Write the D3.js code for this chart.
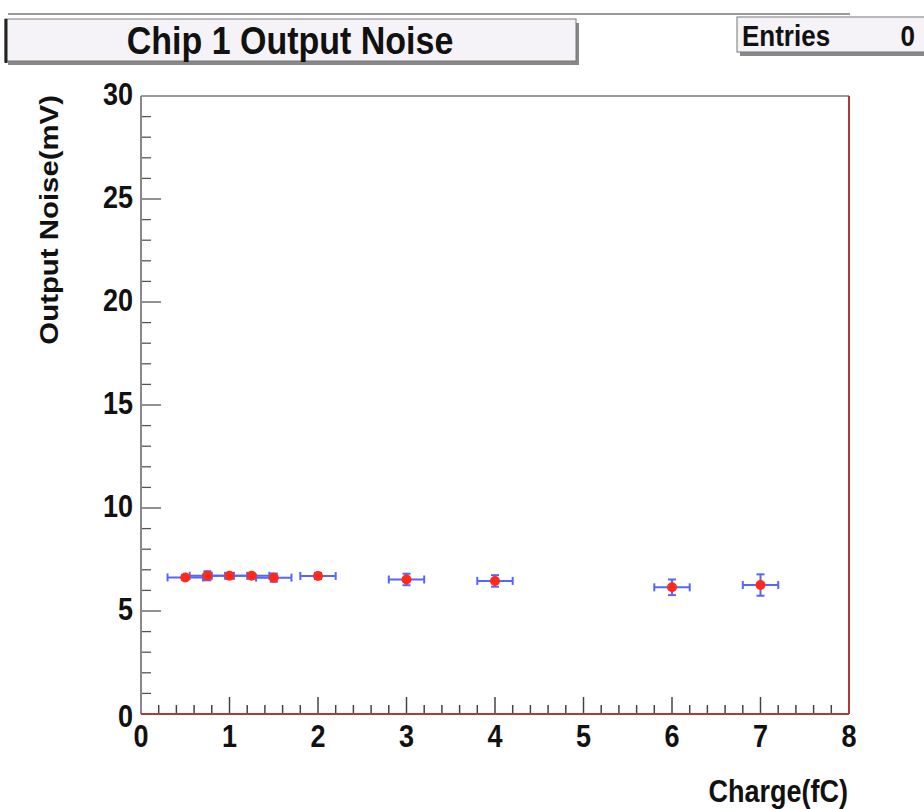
<!DOCTYPE html>
<html>
<head>
<meta charset="utf-8">
<script src="https://cdn.jsdelivr.net/npm/d3@7"></script>
<style>
  body { margin: 0; background: #fff; }
  text { font-family: "Liberation Sans", Arial, sans-serif; font-weight: bold; fill: #111; }
</style>
</head>
<body>
<svg id="chart" width="924" height="809"></svg>
<script>
// measured points (charge in fC, noise in mV)
const charge = [0.5, 0.75, 1, 1.25, 1.5, 2, 3, 4, 6, 7];
const noise = [6.63, 6.71, 6.71, 6.71, 6.62, 6.70, 6.53, 6.46, 6.15, 6.26];
const chargeErr = [0.2, 0.2, 0.2, 0.2, 0.2, 0.2, 0.2, 0.2, 0.2, 0.2];
const noiseErr = [0.12, 0.22, 0.12, 0.12, 0.2, 0.15, 0.28, 0.28, 0.38, 0.52];
const xTicks = [0, 1, 2, 3, 4, 5, 6, 7, 8];
const yTicks = [0, 5, 10, 15, 20, 25, 30];

const margin = {left: 141, right: 75, top: 96, bottom: 95};
const width = 924, height = 809;
const stretch = 1.13; // text in the picture is a bit taller than normal

const svg = d3.select("#chart");

const x = d3.scaleLinear().domain([0, 8]).range([margin.left, width - margin.right]);
const y = d3.scaleLinear().domain([0, 30]).range([height - margin.bottom, margin.top]);

// text placed at (tx, ty), stretched vertically
function label(tx, ty, str, size, anchor) {
  return svg.append("text")
    .attr("transform", `translate(${tx},${ty}) scale(1,${stretch})`)
    .attr("text-anchor", anchor || "start")
    .style("font-size", size + "px")
    .text(str);
}

// stray line at the very top (cut off pad edge)
svg.append("line")
  .attr("x1", 8).attr("x2", 850).attr("y1", 14).attr("y2", 14)
  .attr("stroke", "#999").attr("stroke-width", 2);

// title box
svg.append("rect").attr("x", 8).attr("y", 23).attr("width", 571).attr("height", 42).attr("fill", "#888");
svg.append("rect").attr("x", 5).attr("y", 19).attr("width", 571).attr("height", 42)
  .attr("fill", "#f5f3f7").attr("stroke", "#777").attr("stroke-width", 1);
svg.append("line").attr("x1", 6).attr("x2", 6).attr("y1", 19).attr("y2", 63)
  .attr("stroke", "#222").attr("stroke-width", 3);
label(290, 54, "Chip 1 Output Noise", 34, "middle");

// stats box
svg.append("rect").attr("x", 740).attr("y", 21).attr("width", 190).attr("height", 35).attr("fill", "#888");
svg.append("rect").attr("x", 737).attr("y", 17).attr("width", 190).attr("height", 35)
  .attr("fill", "#f5f3f7").attr("stroke", "#777").attr("stroke-width", 1);
label(742, 46, "Entries", 26);
label(915, 46, "0", 26, "end");

// tick labels
yTicks.forEach(v => label(margin.left - 8, y(v) + (v === 0 ? 13 : 9), String(v), 27, "end"));
xTicks.forEach(v => label(x(v), y(0) + 33, String(v), 27, "middle"));

// tick marks inside the frame
const yMinor = d3.range(0, 31, 1);
svg.append("g").selectAll("line").data(yMinor).join("line")
  .attr("x1", margin.left).attr("x2", d => margin.left + (d % 5 === 0 ? 20 : 10))
  .attr("y1", d => y(d)).attr("y2", d => y(d))
  .attr("stroke", "#555").attr("stroke-width", 1.3);

const xMinor = d3.range(0, 41, 1).map(d => d / 5);
svg.append("g").selectAll("line").data(xMinor).join("line")
  .attr("x1", d => x(d)).attr("x2", d => x(d))
  .attr("y1", y(0)).attr("y2", (d, i) => y(0) - (i % 5 === 0 ? 17 : 9))
  .attr("stroke", "#444").attr("stroke-width", 1.5);

// frame
svg.append("line").attr("x1", x(0)).attr("x2", x(8)).attr("y1", y(30)).attr("y2", y(30))
  .attr("stroke", "#999").attr("stroke-width", 2);
svg.append("line").attr("x1", x(0)).attr("x2", x(0)).attr("y1", y(30)).attr("y2", y(0))
  .attr("stroke", "#888").attr("stroke-width", 2);
svg.append("line").attr("x1", x(0)).attr("x2", x(8)).attr("y1", y(0)).attr("y2", y(0))
  .attr("stroke", "#b03a3a").attr("stroke-width", 2);
svg.append("line").attr("x1", x(8)).attr("x2", x(8)).attr("y1", y(30)).attr("y2", y(0))
  .attr("stroke", "#b03a3a").attr("stroke-width", 2);

// axis titles
label(848, 802, "Charge(fC)", 27, "end");
svg.append("text").attr("transform", `translate(58,${margin.top - 1}) rotate(-90) scale(${stretch},1)`)
  .attr("text-anchor", "end").style("font-size", "26px").text("Output Noise(mV)");

// data points with error bars
const pts = charge.map((c, i) => ({c, n: noise[i], ex: chargeErr[i], ey: noiseErr[i]}));
const blue = "#5566ff";
const g = svg.append("g");
g.selectAll(".hx").data(pts).join("line")
  .attr("x1", d => x(d.c - d.ex)).attr("x2", d => x(d.c + d.ex))
  .attr("y1", d => y(d.n)).attr("y2", d => y(d.n))
  .attr("stroke", blue).attr("stroke-width", 2);
g.selectAll(".hy").data(pts).join("line")
  .attr("x1", d => x(d.c)).attr("x2", d => x(d.c))
  .attr("y1", d => y(d.n - d.ey)).attr("y2", d => y(d.n + d.ey))
  .attr("stroke", blue).attr("stroke-width", 2);
// end caps
g.selectAll(".cl").data(pts).join("line")
  .attr("x1", d => x(d.c - d.ex)).attr("x2", d => x(d.c - d.ex))
  .attr("y1", d => y(d.n) - 4).attr("y2", d => y(d.n) + 4)
  .attr("stroke", blue).attr("stroke-width", 2);
g.selectAll(".cr").data(pts).join("line")
  .attr("x1", d => x(d.c + d.ex)).attr("x2", d => x(d.c + d.ex))
  .attr("y1", d => y(d.n) - 4).attr("y2", d => y(d.n) + 4)
  .attr("stroke", blue).attr("stroke-width", 2);
g.selectAll(".ct").data(pts).join("line")
  .attr("x1", d => x(d.c) - 4).attr("x2", d => x(d.c) + 4)
  .attr("y1", d => y(d.n + d.ey)).attr("y2", d => y(d.n + d.ey))
  .attr("stroke", blue).attr("stroke-width", 2);
g.selectAll(".cb").data(pts).join("line")
  .attr("x1", d => x(d.c) - 4).attr("x2", d => x(d.c) + 4)
  .attr("y1", d => y(d.n - d.ey)).attr("y2", d => y(d.n - d.ey))
  .attr("stroke", blue).attr("stroke-width", 2);
g.selectAll("circle").data(pts).join("circle")
  .attr("cx", d => x(d.c)).attr("cy", d => y(d.n)).attr("r", 5)
  .attr("fill", "#ff2a1a");
</script>
</body>
</html>
